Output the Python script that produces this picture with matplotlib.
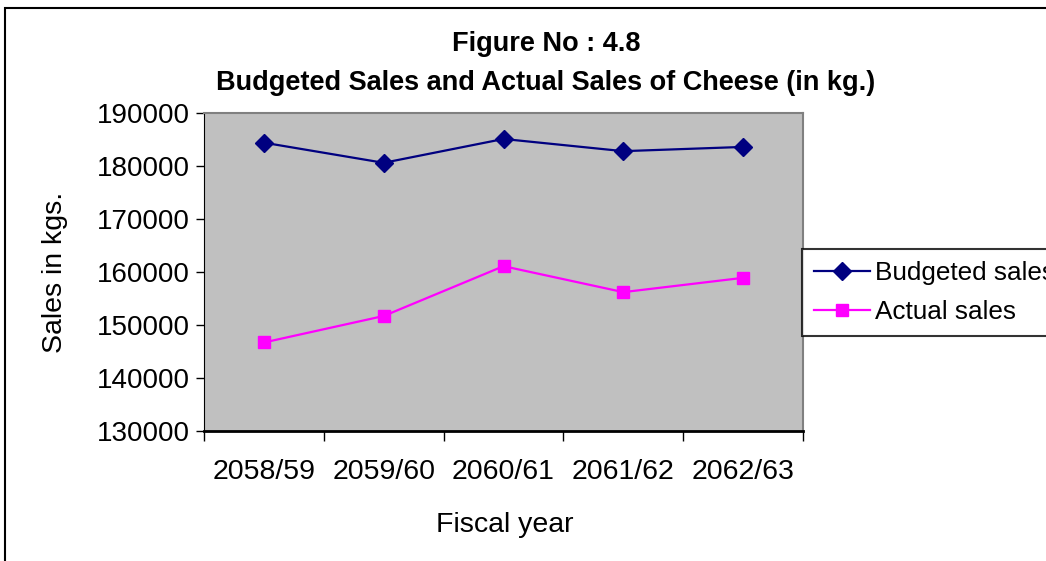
import matplotlib.pyplot as plt
from matplotlib.patches import Rectangle

plt.rcParams['font.family'] = ['Liberation Sans', 'DejaVu Sans']

# data
years = ['2058/59', '2059/60', '2060/61', '2061/62', '2062/63']
budgeted = [184400, 180600, 185100, 182800, 183600]
actual = [146700, 151700, 161100, 156200, 158900]

W, H = 1046, 561
fig = plt.figure(figsize=(W / 100, H / 100), dpi=100)
fig.patch.set_facecolor('white')

# outer chart border (cropped on right/bottom like the source)
fig.patches.append(Rectangle((5 / W, -0.1), 1.2, 1.1 - 8 / H, transform=fig.transFigure,
                             fill=False, edgecolor='black', linewidth=1.5, clip_on=False))

ax = fig.add_axes([204 / W, 1 - 431 / H, 599 / W, 318 / H])
ax.set_facecolor('#C0C0C0')

x = list(range(len(years)))
ax.plot(x, budgeted, color='#000080', marker='D', markersize=9, linewidth=1.6,
        label='Budgeted sales')
ax.plot(x, actual, color='#FF00FF', marker='s', markersize=9, linewidth=1.6,
        label='Actual sales')

ax.set_xlim(-0.5, len(years) - 0.5)
ax.set_ylim(130000, 190000)
ax.set_yticks(range(130000, 190001, 10000))
ax.tick_params(axis='y', labelsize=20, length=6, width=1, pad=4, direction='out')

# tick marks between categories, labels at the centers
ax.set_xticks([i - 0.5 for i in range(len(years) + 1)])
ax.set_xticklabels([])
ax.set_xticks(x, minor=True)
ax.set_xticklabels(years, minor=True)
ax.tick_params(axis='x', which='major', length=7, width=1, direction='out')
ax.tick_params(axis='x', which='minor', length=0, labelsize=20.5, pad=20)

for s in ['top', 'right']:
    ax.spines[s].set_color('#808080')
    ax.spines[s].set_linewidth(1.5)
ax.spines['left'].set_color('black')
ax.spines['bottom'].set_color('black')
ax.spines['bottom'].set_linewidth(2)

fig.text(546 / W, 1 - 44 / H, 'Figure No : 4.8', ha='center', va='center',
         fontsize=19.5, fontweight='bold')
fig.text(546 / W, 1 - 83 / H, 'Budgeted Sales and Actual Sales of Cheese (in kg.)',
         ha='center', va='center', fontsize=19.5, fontweight='bold')
fig.text(55 / W, 1 - 272 / H, 'Sales in kgs.', rotation=90, ha='center', va='center',
         fontsize=20.5)
fig.text(505 / W, 1 - 525 / H, 'Fiscal year', ha='center', va='center', fontsize=20.5)

leg = fig.legend(loc='upper left', bbox_to_anchor=(802 / W, 1 - 249 / H), fontsize=18.8,
                 frameon=True, fancybox=False, handlelength=2.15, handletextpad=0.2,
                 borderpad=0.45, labelspacing=0.6, borderaxespad=0)
leg.get_frame().set_edgecolor('black')
leg.get_frame().set_linewidth(1.5)

fig.savefig('out.png', dpi=100)
